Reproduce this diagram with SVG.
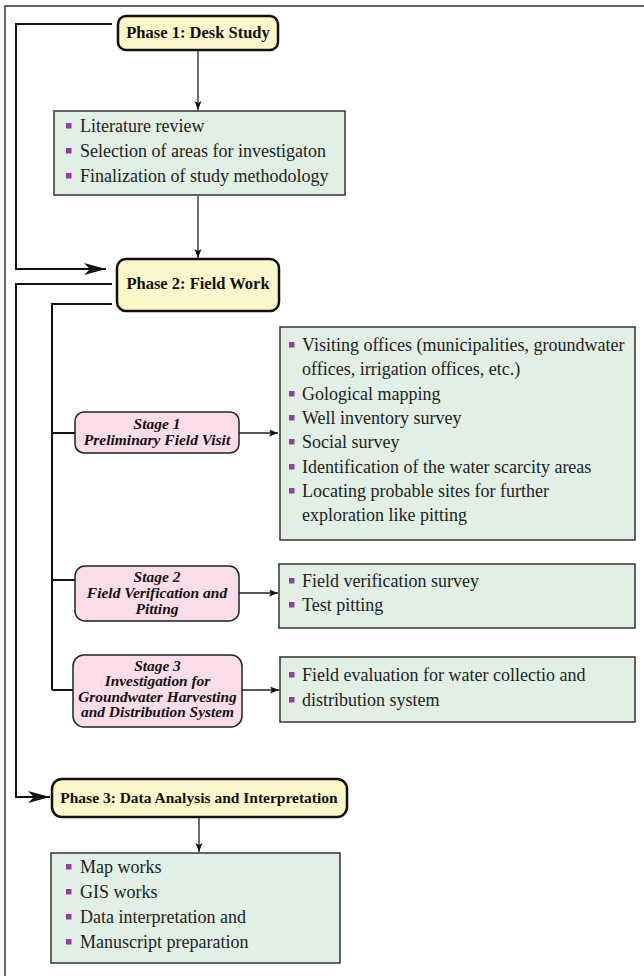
<svg xmlns="http://www.w3.org/2000/svg" width="644" height="976" viewBox="0 0 644 976">
<defs>
<style>
text{font-family:'Liberation Serif','Times New Roman',Times,'DejaVu Serif',serif}
.phase{fill:#fcf6c8;stroke:#111;stroke-width:2.5}
.stage{fill:#fbdde9;stroke:#222;stroke-width:1.5}
.list{fill:#e1efe5;stroke:#333;stroke-width:1.5}
.pt{font-weight:bold;font-size:16.5px;fill:#111;text-anchor:middle}
.pt3{font-size:15.5px}
.st{font-weight:bold;font-style:italic;font-size:15.5px;fill:#111;text-anchor:middle}
.st3{font-size:14px}
.it{font-size:18px;fill:#222}
.bul{fill:#8c3f9e}
.flow{fill:none;stroke:#111;stroke-width:2}
.thin{fill:none;stroke:#222;stroke-width:1.3}
.frame{fill:none;stroke:#333;stroke-width:1.5}
</style>
<marker id="big" markerUnits="userSpaceOnUse" markerWidth="24" markerHeight="14" refX="22" refY="6" orient="auto">
<path d="M0,0 L22,6 L0,12 L6,6 z" fill="#111"/>
</marker>
<marker id="small" markerUnits="userSpaceOnUse" markerWidth="10" markerHeight="8" refX="9" refY="3.5" orient="auto">
<path d="M0,0 L9,3.5 L0,7 L2,3.5 z" fill="#111"/>
</marker>
</defs>
<rect width="644" height="976" fill="#fff"/>
<path class="frame" d="M5,976 L5,6 L644,6"/>

<g id="connectors">
<path class="flow" d="M112,24 L16,24 L16,269 L106,269" marker-end="url(#big)"/>
<path class="flow" d="M112,284 L16,284 L16,797 L50,797" marker-end="url(#big)"/>
<path class="flow" d="M112,304 L52,304 L52,690"/>
<path class="flow" d="M52,433 L75,433"/>
<path class="flow" d="M52,580 L75,580"/>
<path class="flow" d="M52,690 L73,690"/>
<path class="thin" d="M198,50 L198,110" marker-end="url(#small)"/>
<path class="thin" d="M198,196 L198,258" marker-end="url(#small)"/>
<path class="thin" d="M199,817 L199,852" marker-end="url(#small)"/>
<path class="thin" d="M239,433 L278,433" marker-end="url(#small)"/>
<path class="thin" d="M239,593 L278,593" marker-end="url(#small)"/>
<path class="thin" d="M242,690 L279,690" marker-end="url(#small)"/>
</g>

<g id="phase1">
<rect class="phase" x="118" y="16" width="160" height="34" rx="8"/>
<text class="pt" x="198" y="38">Phase 1: Desk Study</text>
</g>

<g id="desk-list">
<rect class="list" x="54" y="111" width="291" height="84"/>
<rect class="bul" x="66" y="123" width="5.5" height="5.5"/>
<text class="it" x="80" y="132">Literature review</text>
<rect class="bul" x="66" y="148" width="5.5" height="5.5"/>
<text class="it" x="80" y="157">Selection of areas for investigaton</text>
<rect class="bul" x="66" y="173" width="5.5" height="5.5"/>
<text class="it" x="80" y="182">Finalization of study methodology</text>
</g>

<g id="phase2">
<rect class="phase" x="117" y="259" width="162" height="52" rx="9"/>
<text class="pt" x="198" y="289">Phase 2: Field Work</text>
</g>

<g id="stage1">
<rect class="stage" x="75" y="412" width="164" height="41" rx="9"/>
<text class="st" x="157" y="429">Stage 1</text>
<text class="st" x="157" y="445">Preliminary Field Visit</text>
</g>

<g id="stage1-list">
<rect class="list" x="280" y="327" width="355" height="213"/>
<rect class="bul" x="289" y="342" width="5.5" height="5.5"/>
<text class="it" x="302" y="351">Visiting offices (municipalities, groundwater</text>
<text class="it" x="302" y="375">offices, irrigation offices, etc.)</text>
<rect class="bul" x="289" y="391" width="5.5" height="5.5"/>
<text class="it" x="302" y="400">Gological mapping</text>
<rect class="bul" x="289" y="415" width="5.5" height="5.5"/>
<text class="it" x="302" y="424">Well inventory survey</text>
<rect class="bul" x="289" y="439" width="5.5" height="5.5"/>
<text class="it" x="302" y="448">Social survey</text>
<rect class="bul" x="289" y="464" width="5.5" height="5.5"/>
<text class="it" x="302" y="473">Identification of the water scarcity areas</text>
<rect class="bul" x="289" y="488" width="5.5" height="5.5"/>
<text class="it" x="302" y="497">Locating probable sites for further</text>
<text class="it" x="302" y="521">exploration like pitting</text>
</g>

<g id="stage2">
<rect class="stage" x="75" y="566" width="164" height="55" rx="10"/>
<text class="st" x="157" y="582">Stage 2</text>
<text class="st" x="157" y="598">Field Verification and</text>
<text class="st" x="157" y="614">Pitting</text>
</g>

<g id="stage2-list">
<rect class="list" x="279" y="564" width="356" height="64"/>
<rect class="bul" x="289" y="578" width="5.5" height="5.5"/>
<text class="it" x="302" y="587">Field verification survey</text>
<rect class="bul" x="289" y="602" width="5.5" height="5.5"/>
<text class="it" x="302" y="611">Test pitting</text>
</g>

<g id="stage3">
<rect class="stage" x="73" y="655" width="169" height="72" rx="11"/>
<g transform="translate(157.5,0) scale(1.1,1)">
<text class="st st3" x="0" y="671">Stage 3</text>
<text class="st st3" x="0" y="686.5">Investigation for</text>
<text class="st st3" x="0" y="702">Groundwater Harvesting</text>
<text class="st st3" x="0" y="717.5">and Distribution System</text>
</g>
</g>

<g id="stage3-list">
<rect class="list" x="280" y="657" width="355" height="65"/>
<rect class="bul" x="289" y="672" width="5.5" height="5.5"/>
<text class="it" x="302" y="681">Field evaluation for water collectio and</text>
<rect class="bul" x="289" y="697" width="5.5" height="5.5"/>
<text class="it" x="302" y="706">distribution system</text>
</g>

<g id="phase3">
<rect class="phase" x="52" y="779" width="295" height="38" rx="10"/>
<text class="pt pt3" x="199" y="803">Phase 3: Data Analysis and Interpretation</text>
</g>

<g id="analysis-list">
<rect class="list" x="51" y="853" width="289" height="110"/>
<rect class="bul" x="66" y="864" width="5.5" height="5.5"/>
<text class="it" x="80" y="873">Map works</text>
<rect class="bul" x="66" y="889" width="5.5" height="5.5"/>
<text class="it" x="80" y="898">GIS works</text>
<rect class="bul" x="66" y="914" width="5.5" height="5.5"/>
<text class="it" x="80" y="923">Data interpretation and</text>
<rect class="bul" x="66" y="939" width="5.5" height="5.5"/>
<text class="it" x="80" y="948">Manuscript preparation</text>
</g>
</svg>
